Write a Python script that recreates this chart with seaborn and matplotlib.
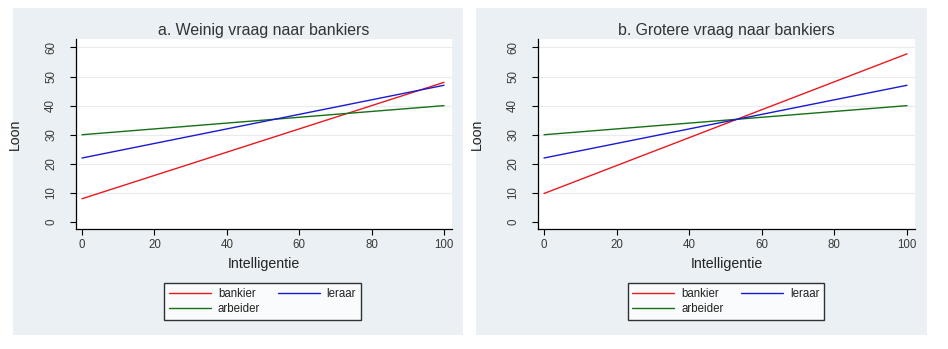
import matplotlib
matplotlib.use("Agg")
import matplotlib.pyplot as plt
from matplotlib.patches import Rectangle
import seaborn as sns
import pandas as pd

# ---- data ----
x_points = [0, 100]
series_names = ["bankier", "arbeider", "leraar"]
panel_titles = ["a. Weinig vraag naar bankiers", "b. Grotere vraag naar bankiers"]
bankier_a = [8, 48]
leraar_a = [22, 47]
arbeider_a = [30, 40]
bankier_b = [9.8, 57.8]
leraar_b = [22, 47]
arbeider_b = [30, 40]
x_ticks = [0, 20, 40, 60, 80, 100]
y_ticks = [0, 10, 20, 30, 40, 50, 60]
x_label = "Intelligentie"
y_label = "Loon"
colors = {"bankier": "#e8191e", "leraar": "#1a1ad0", "arbeider": "#167016"}

sns.set_theme(style="white")
plt.rcParams["font.family"] = ["Liberation Sans", "DejaVu Sans"]

W, H = 948, 349
fig = plt.figure(figsize=(W / 100, H / 100), dpi=100)
fig.patch.set_facecolor("white")

def fx(px):
    return px / W

def fy(py):
    return 1 - py / H

# panel backgrounds
for (x0, x1) in [(13, 463), (476, 927)]:
    fig.patches.append(Rectangle((fx(x0), fy(335)), fx(x1 - x0), (335 - 8) / H,
                                 transform=fig.transFigure, facecolor="#eaf0f3",
                                 edgecolor="none", zorder=-5))

def make_df(b, l, a):
    rows = []
    for name, vals in [("bankier", b), ("arbeider", a), ("leraar", l)]:
        for xv, yv in zip(x_points, vals):
            rows.append({"Intelligentie": xv, "Loon": yv, "beroep": name})
    return pd.DataFrame(rows)

dfs = [make_df(bankier_a, leraar_a, arbeider_a), make_df(bankier_b, leraar_b, arbeider_b)]
axes_px = [(76, 452), (538, 915)]
legend_cx = [262.5, 725.8]

for i, (df, (l, r)) in enumerate(zip(dfs, axes_px)):
    ax = fig.add_axes([fx(l), fy(229), fx(r - l), (229 - 39) / H])
    ax.set_facecolor("white")
    for yt in y_ticks[1:]:
        ax.axhline(yt, color="#e8ecee", lw=0.8, zorder=0)
    sns.lineplot(data=df, x="Intelligentie", y="Loon", hue="beroep",
                 hue_order=series_names, palette=colors, ax=ax, lw=1.0,
                 legend=True, zorder=3)
    ax.set_xlim(-1.66, 102.2)
    ax.set_ylim(-2.4, 62.9)
    ax.set_xticks(x_ticks)
    ax.set_yticks(y_ticks)
    ax.set_yticklabels([str(v) for v in y_ticks], rotation=90, va="center")
    ax.tick_params(axis="both", which="both", length=4, width=0.8, color="black",
                   labelsize=8.3, labelcolor="#3a3a3a", direction="out",
                   bottom=True, left=True)
    ax.tick_params(axis="x", pad=3.2)
    ax.tick_params(axis="y", pad=9.5)
    for s in ["top", "right"]:
        ax.spines[s].set_visible(False)
    for s in ["left", "bottom"]:
        ax.spines[s].set_color("black")
        ax.spines[s].set_linewidth(0.9)
    ax.set_xlabel(x_label, fontsize=10.2, color="#222222", labelpad=4)
    ax.set_ylabel(y_label, fontsize=10.2, color="#222222", labelpad=17)
    ax.set_title(panel_titles[i], fontsize=11.4, color="#333333", pad=3)
    ax.grid(False)
    # legend
    handles, labels = ax.get_legend_handles_labels()
    ax.get_legend().remove()
    cx = (legend_cx[i] - l) / (r - l)
    leg = ax.legend(handles, labels, ncol=2, loc="upper center",
                    bbox_to_anchor=(cx, (229 - 283) / 190),
                    frameon=True, fancybox=False, fontsize=8.3,
                    handlelength=3.65, handletextpad=0.6, columnspacing=1.5,
                    borderpad=0.4, labelspacing=0.3, borderaxespad=0)
    leg.get_frame().set_edgecolor("black")
    leg.get_frame().set_linewidth(1.0)
    leg.get_frame().set_facecolor("white")
    for t in leg.get_texts():
        t.set_color("#222222")

fig.savefig("out.png", dpi=100)
